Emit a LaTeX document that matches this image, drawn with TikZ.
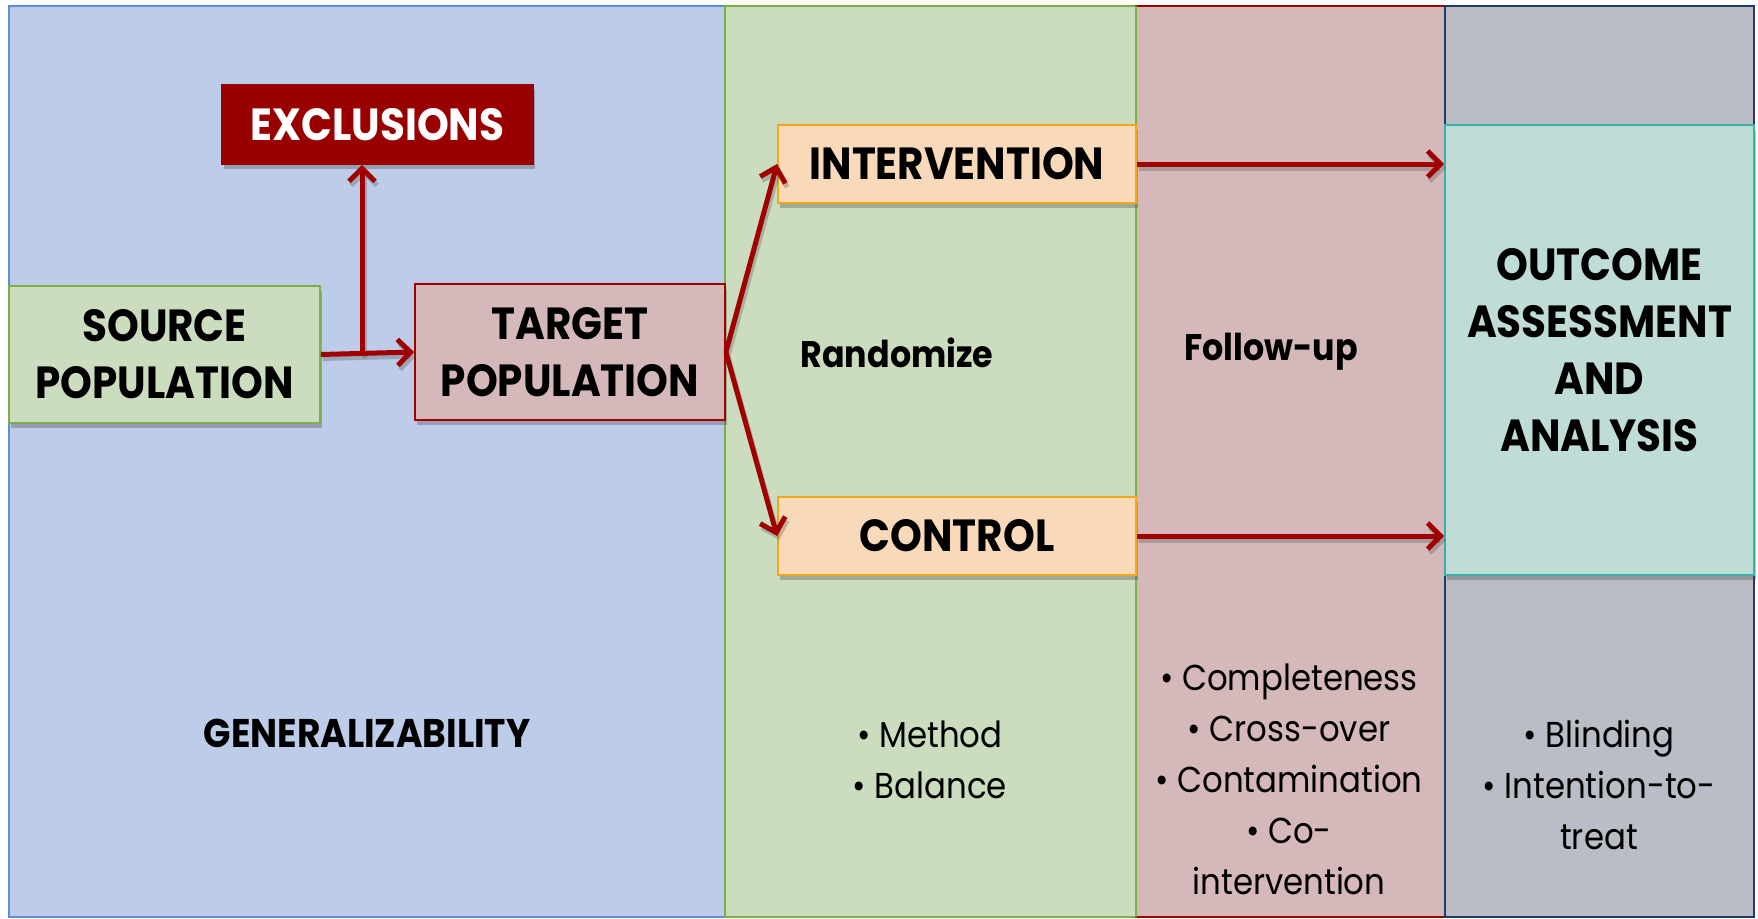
\documentclass[tikz,border=0pt]{standalone}
\usepackage{fontspec}
\setmainfont{Poppins}[FakeStretch=0.9]
\usetikzlibrary{arrows.meta,shadows}
\definecolor{pblue}{HTML}{BDCCE8}
\definecolor{pblueB}{HTML}{5B8FD6}
\definecolor{pgreen}{HTML}{CCDDBF}
\definecolor{pgreenB}{HTML}{7CAF4A}
\definecolor{pred}{HTML}{D5B9BA}
\definecolor{predB}{HTML}{A00000}
\definecolor{pgray}{HTML}{BABDC5}
\definecolor{pgrayB}{HTML}{1F3A6A}
\definecolor{exred}{HTML}{990000}
\definecolor{peach}{HTML}{F8D9B9}
\definecolor{peachB}{HTML}{F0A818}
\definecolor{teal}{HTML}{BFDCD7}
\definecolor{tealB}{HTML}{3BB0A8}
\definecolor{arrred}{HTML}{A00000}
\tikzset{
  panel/.style={line width=1.8pt},
  box/.style={line width=1.8pt, inner sep=0pt, align=center,
    font=\fontsize{45}{57}\selectfont\bfseries,
    drop shadow={shadow xshift=2pt, shadow yshift=-5pt, opacity=0.35, fill=black!70}},
  arrshadow/.style={draw=black!70, draw opacity=0.3, line width=5pt,
    -{Straight Barb[length=13pt,width=26pt,line width=5pt]}},
  arr/.style={draw=arrred, line width=5pt, -{Straight Barb[length=13pt,width=26pt,line width=5pt]}},
  midlabel/.style={anchor=base, inner sep=0pt, font=\fontsize{37}{45}\selectfont\bfseries},
  listitem/.style={anchor=base, inner sep=0pt, font=\fontsize{36}{52}\selectfont},
}
\begin{document}
\begin{tikzpicture}[x=1pt,y=-1pt]
\useasboundingbox (0,0) rectangle (1758,918);
\fill[white] (0,0) rectangle (1758,918);
% panels
\draw[panel, fill=pblue, draw=pblueB] (9,6) rectangle (725,917);
\draw[panel, fill=pgreen, draw=pgreenB] (725,6) rectangle (1136,917);
\draw[panel, fill=pred, draw=predB] (1136,6) rectangle (1445,917);
\draw[panel, fill=pgray, draw=pgrayB] (1445,6) rectangle (1754,917);
\draw[panel, draw=pgreenB] (1136,6) -- (1136,917);
% boxes
\node[box, fill=exred, draw=exred, text=white, minimum width=311pt, minimum height=79pt] (excl) at (377.5,124.5) {EXCLUSIONS};
\node[box, fill=pgreen, draw=pgreenB, minimum width=311pt, minimum height=137pt] (src) at (164.5,354.5) {SOURCE\\POPULATION};
\node[box, fill=pred, draw=predB, minimum width=310pt, minimum height=136pt] (tgt) at (570,352) {TARGET\\POPULATION};
\node[box, fill=peach, draw=peachB, minimum width=358pt, minimum height=78pt] (int) at (957,164) {INTERVENTION};
\node[box, fill=peach, draw=peachB, minimum width=358pt, minimum height=78pt] (ctl) at (957,536) {CONTROL};
\node[box, fill=teal, draw=tealB, minimum width=309pt, minimum height=450pt] (out) at (1599.5,350) {OUTCOME\\ASSESSMENT\\AND\\ANALYSIS};
% arrows
\coordinate (junc) at (362,353.5);
\begin{scope}[transform canvas={shift={(2pt,-4pt)}}]
\draw[arrshadow] (src.east) -- (tgt.west);
\draw[arrshadow] (junc) -- (junc |- excl.south);
\draw[arrshadow] (tgt.east) -- (int.west);
\draw[arrshadow] (tgt.east) -- (ctl.west);
\draw[arrshadow] (int.east) -- (out.west |- int.east);
\draw[arrshadow] (ctl.east) -- (out.west |- ctl.east);
\end{scope}
\draw[arr] (src.east) -- (tgt.west);
\draw[arr] (junc) -- (junc |- excl.south);
\draw[arr] (tgt.east) -- (int.west);
\draw[arr] (tgt.east) -- (ctl.west);
\draw[arr] (int.east) -- (out.west |- int.east);
\draw[arr] (ctl.east) -- (out.west |- ctl.east);
% labels
\node[midlabel] (rand) at (897,367) {Randomize};
\node[midlabel] (fol) at (1271,360) {Follow-up};
\node[midlabel, font=\fontsize{40}{45}\selectfont\bfseries] (gen) at (367,747) {GENERALIZABILITY};
\node[listitem] (m1) at (930,747) {• Method};
\node[listitem] (m2) at (930,798) {• Balance};
\node[listitem] (f1) at (1289,690) {• Completeness};
\node[listitem] (f2) at (1289,741) {• Cross-over};
\node[listitem] (f3) at (1289,792) {• Contamination};
\node[listitem] (f4) at (1289,843) {• Co-};
\node[listitem] (f5) at (1289,894) {intervention};
\node[listitem] (b1) at (1599,747) {• Blinding};
\node[listitem] (b2) at (1599,798) {• Intention-to-};
\node[listitem] (b3) at (1599,849) {treat};
\end{tikzpicture}
\end{document}
